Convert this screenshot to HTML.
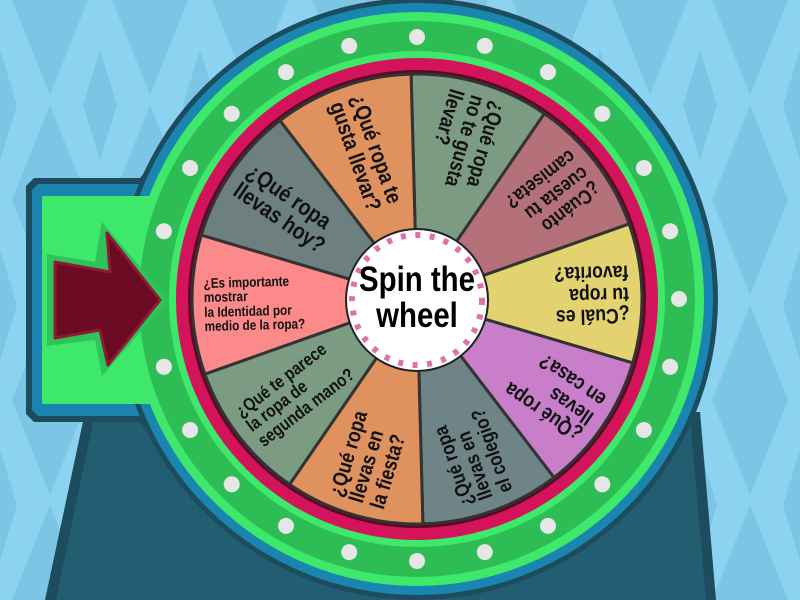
<!DOCTYPE html>
<html><head><meta charset="utf-8"><style>
html,body{margin:0;padding:0;}
body{width:800px;height:600px;overflow:hidden;position:relative;background:#8bd3f1;}
svg{position:absolute;left:0;top:0;}
.t{position:absolute;left:417px;top:299px;width:0;height:0;}
.t div{position:absolute;left:-212px;top:0;width:170px;transform-origin:0 50%;transform:translateY(-50%) scaleX(0.84);font-family:"Liberation Sans",sans-serif;font-weight:bold;color:#111;line-height:1.02;white-space:nowrap;}
.c{position:absolute;left:317px;top:262px;width:200px;text-align:center;font-family:"Liberation Sans",sans-serif;font-weight:bold;font-size:35px;line-height:36px;color:#000;transform:scaleX(0.84);}
</style></head><body>
<svg width="800" height="600" viewBox="0 0 800 600">
<defs>
<pattern id="bg" width="100" height="200" patternUnits="userSpaceOnUse">
<polygon points="50,-95 88,0 50,95 12,0" fill="#7dc5e5"/>
<polygon points="50,105 88,200 50,295 12,200" fill="#7dc5e5"/>
<polygon points="0,50 17,105 0,160 -17,105" fill="#7dc5e5"/>
<polygon points="100,50 117,105 100,160 83,105" fill="#7dc5e5"/>
</pattern>
</defs>
<rect width="800" height="600" fill="url(#bg)"/>
<polygon points="45,600 85,412 700,412 716,600" fill="#1d4c5e"/>
<polygon points="56,600 94,418 690,418 706,600" fill="#235d72"/>
<polygon points="26,186 34,178 140,178 170,140 170,460 140,422 34,422 26,414" fill="#1d4c5e"/>
<polygon points="32,190 38,184 145,184 172,150 172,450 145,416 38,416 32,410" fill="#1a86b0"/>
<circle cx="417" cy="299" r="301" fill="#1d4c5e"/>
<circle cx="417" cy="299" r="296" fill="#1a86b0"/>
<polygon points="42,196 150,196 180,165 180,435 150,404 42,404" fill="#3ee86a"/>
<circle cx="417" cy="299" r="287" fill="#3ee86a"/>
<circle cx="417" cy="299" r="278" fill="#2ebd55"/>
<circle cx="417" cy="299" r="248" fill="#3ee86a"/>
<circle cx="417" cy="299" r="241" fill="#d4145a"/>
<circle cx="417" cy="299" r="229" fill="#5a0a25"/>
<polygon points="102,222 168,300 102,376 95,340 47,346 47,254 95,262" fill="#2fc45a"/>
<polygon points="107,233 160,300 108,365 100,330 55,338 55,262 110,272" fill="#6b0a22" stroke="#8e1a38" stroke-width="3" stroke-linejoin="round"/>
<g fill="#e6e6e6">
<circle cx="679" cy="299" r="8"/><circle cx="670.1" cy="366.8" r="8"/><circle cx="643.9" cy="430" r="8"/><circle cx="602.3" cy="484.3" r="8"/><circle cx="548" cy="525.9" r="8"/><circle cx="484.8" cy="552.1" r="8"/><circle cx="417" cy="561" r="8"/><circle cx="349.2" cy="552.1" r="8"/><circle cx="286" cy="525.9" r="8"/><circle cx="231.7" cy="484.3" r="8"/><circle cx="190.1" cy="430" r="8"/><circle cx="163.9" cy="366.8" r="8"/>
<circle cx="163.9" cy="231.2" r="8"/><circle cx="190.1" cy="168" r="8"/><circle cx="231.7" cy="113.7" r="8"/><circle cx="286" cy="72.1" r="8"/><circle cx="349.2" cy="45.9" r="8"/><circle cx="417" cy="37" r="8"/><circle cx="484.8" cy="45.9" r="8"/><circle cx="548" cy="72.1" r="8"/><circle cx="602.3" cy="113.7" r="8"/><circle cx="643.9" cy="168" r="8"/><circle cx="670.1" cy="231.2" r="8"/>
</g>
<g stroke="#333" stroke-width="3" stroke-linejoin="round">
<path d="M417,299 L411.1,74.1 A225,225 0 0 1 544.4,113.6 Z" fill="#7b9b83"/>
<path d="M417,299 L544.4,113.6 A225,225 0 0 1 629.1,223.9 Z" fill="#b4717a"/>
<path d="M417,299 L629.1,223.9 A225,225 0 0 1 632.7,362.9 Z" fill="#e2d370"/>
<path d="M417,299 L632.7,362.9 A225,225 0 0 1 554,477.5 Z" fill="#c87ec9"/>
<path d="M417,299 L554,477.5 A225,225 0 0 1 422.9,523.9 Z" fill="#6e8487"/>
<path d="M417,299 L422.9,523.9 A225,225 0 0 1 289.6,484.4 Z" fill="#df915e"/>
<path d="M417,299 L289.6,484.4 A225,225 0 0 1 204.9,374.1 Z" fill="#7b9b83"/>
<path d="M417,299 L204.9,374.1 A225,225 0 0 1 201.3,235.1 Z" fill="#fd8a8b"/>
<path d="M417,299 L201.3,235.1 A225,225 0 0 1 280,120.5 Z" fill="#6e7f80"/>
<path d="M417,299 L280,120.5 A225,225 0 0 1 411.1,74.1 Z" fill="#df915e"/>
</g>
<circle cx="417" cy="300" r="72" fill="#222"/>
<circle cx="417" cy="300" r="70" fill="#fff"/>
<circle cx="417" cy="300" r="65" fill="none" stroke="#e070a8" stroke-width="6" stroke-dasharray="5 9.5"/>
</svg>
<div class="t" style="transform:rotate(-1.5deg)"><div style="font-size:14px;left:-213px">¿Es importante<br>mostrar<br>la Identidad por<br>medio de la ropa?</div></div>
<div class="t" style="transform:rotate(34.5deg)"><div style="font-size:23px">¿Qué ropa<br>llevas hoy?</div></div>
<div class="t" style="transform:rotate(70.5deg)"><div style="font-size:22px">¿Qué ropa te<br>gusta llevar?</div></div>
<div class="t" style="transform:rotate(106.5deg)"><div style="font-size:21px">¿Qué ropa<br>no te gusta<br>llevar?</div></div>
<div class="t" style="transform:rotate(142.5deg)"><div style="font-size:20px">¿Cuánto<br>cuesta tu<br>camiseta?</div></div>
<div class="t" style="transform:rotate(178.5deg)"><div style="font-size:21px">¿Cuál es<br>tu ropa<br>favorita?</div></div>
<div class="t" style="transform:rotate(214.5deg)"><div style="font-size:21px">¿Qué ropa<br>llevas<br>en casa?</div></div>
<div class="t" style="transform:rotate(250.5deg)"><div style="font-size:20px">¿Qué ropa<br>llevas en<br>el colegio?</div></div>
<div class="t" style="transform:rotate(286.5deg)"><div style="font-size:21px">¿Qué ropa<br>llevas en<br>la fiesta?</div></div>
<div class="t" style="transform:rotate(322.5deg)"><div style="font-size:18px">¿Qué te parece<br>la ropa de<br>segunda mano?</div></div>
<div class="c">Spin the<br>wheel</div>
</body></html>
